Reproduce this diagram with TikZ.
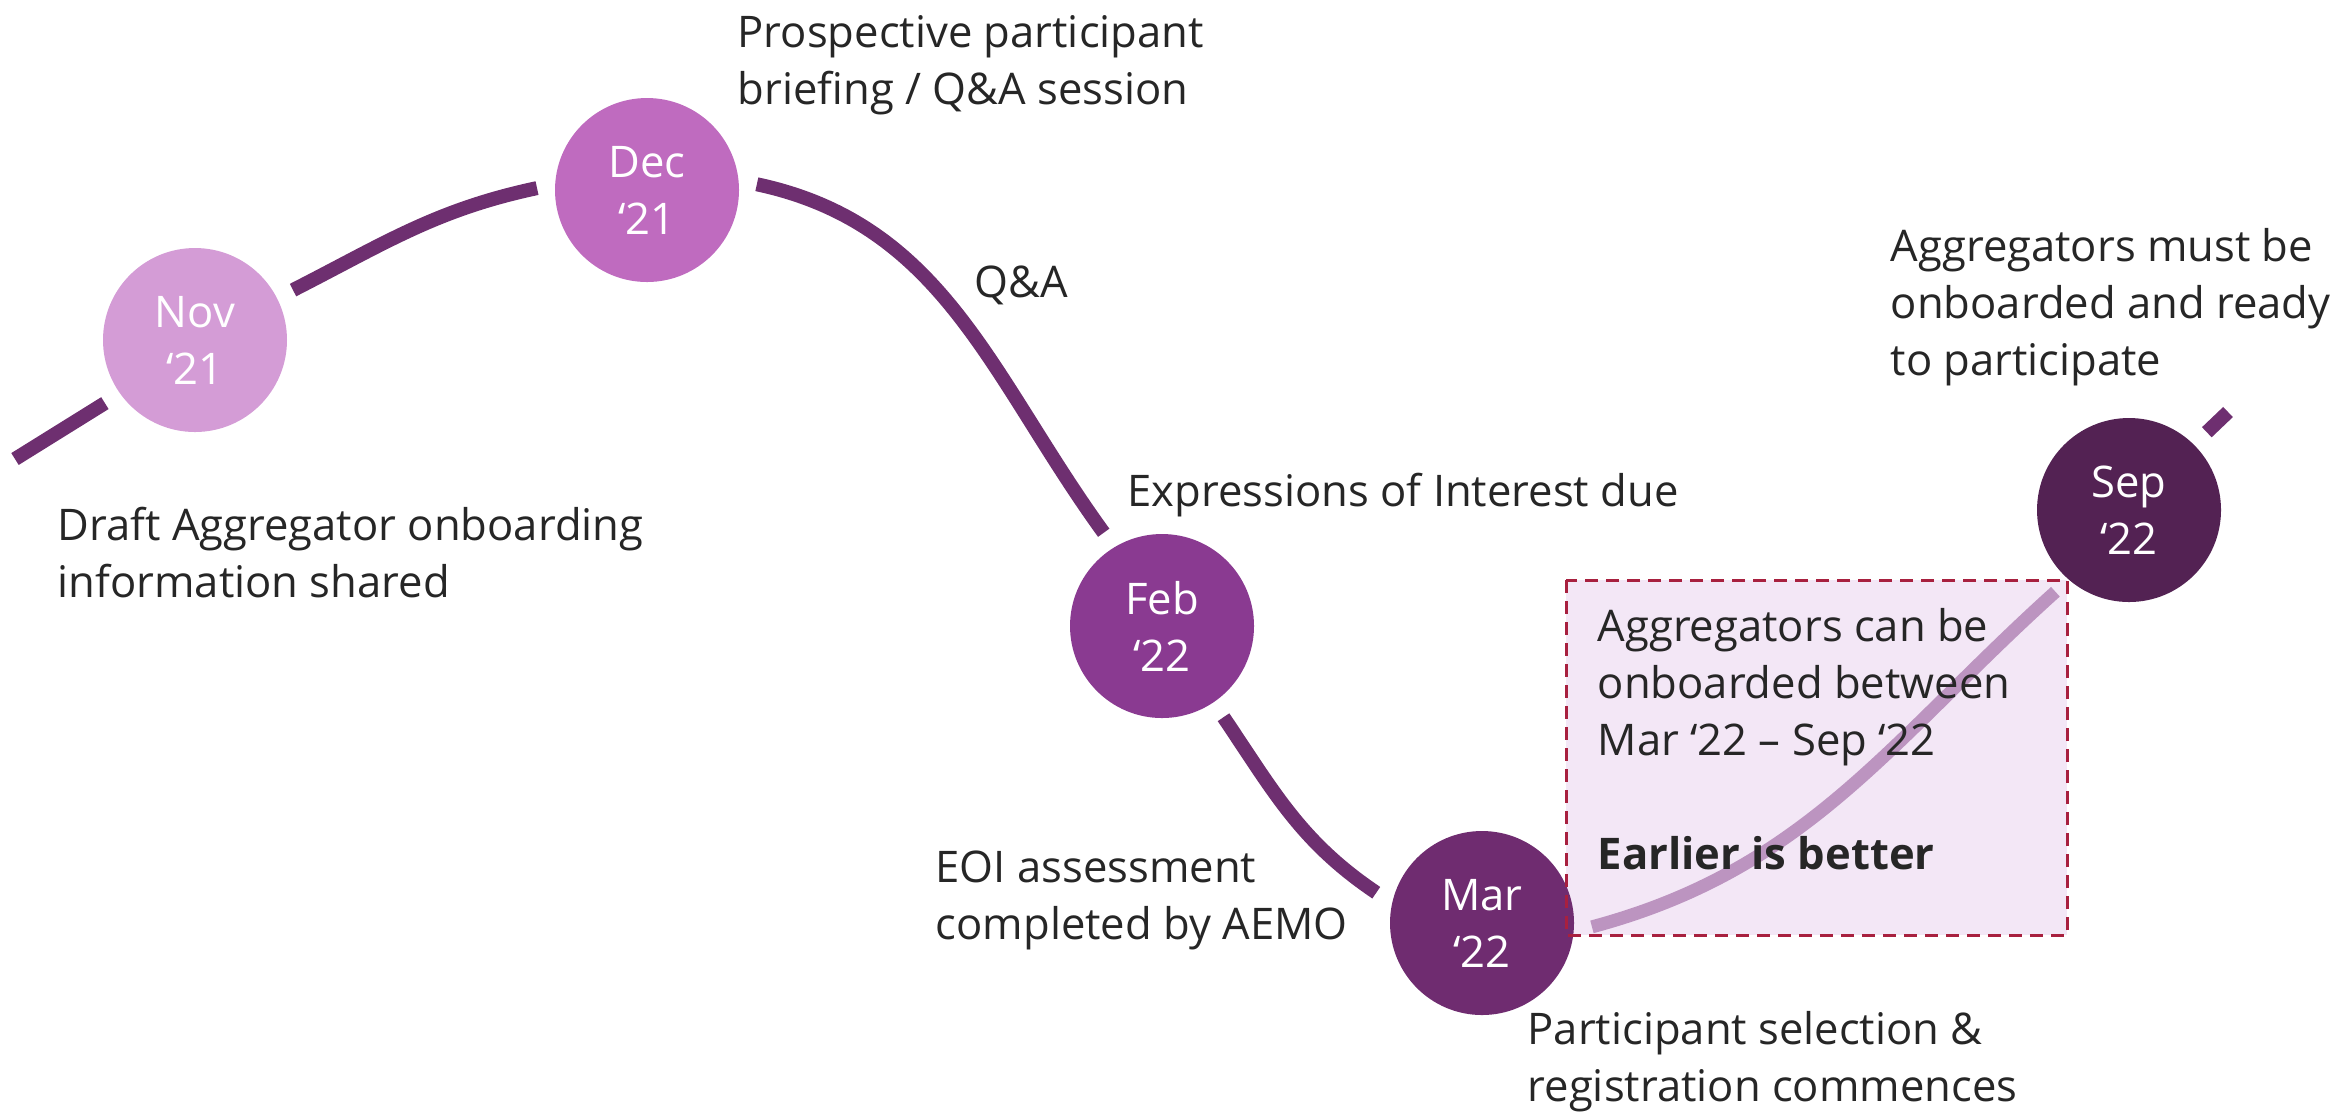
\documentclass[tikz,border=0pt]{standalone}
\usepackage{fontspec}
\setmainfont{Open Sans}
\definecolor{novC}{HTML}{D49CD6}
\definecolor{decC}{HTML}{BF6BBF}
\definecolor{febC}{HTML}{8A3A91}
\definecolor{marC}{HTML}{6F2C70}
\definecolor{sepC}{HTML}{532253}
\definecolor{lineC}{HTML}{6E2F70}
\definecolor{lightC}{HTML}{BC94C0}
\definecolor{boxC}{HTML}{F3E7F6}
\definecolor{borderC}{HTML}{A8203F}
\definecolor{txtC}{HTML}{262626}
\newcommand\lblfont{\fontsize{12.4}{16.2}\selectfont}
\pgfdeclarelayer{bg}
\pgfsetlayers{bg,main}
\tikzset{
  month/.style={circle, minimum size=18.4mm, inner sep=0pt, outer sep=1.8mm,
    text=white, align=center, font=\lblfont},
  tline/.style={line width=1.4mm, draw=lineC},
  lline/.style={line width=1.3mm, draw=lightC},
  lbl/.style={anchor=north west, inner sep=0pt, align=left, text=txtC, font=\lblfont},
  boxborder/.style={draw=borderC, line width=0.3mm, dash pattern=on 1.3mm off 0.8mm},
}
\begin{document}
\begin{tikzpicture}[x=0.1mm,y=-0.1mm]
\useasboundingbox (0,0) rectangle (2343,1112);
% month circles
\node[month, fill=novC] (nov) at (195,340) {Nov\\‘21};
\node[month, fill=decC] (dec) at (647,190) {Dec\\‘21};
\node[month, fill=febC] (feb) at (1162,626) {Feb\\‘22};
\node[month, fill=marC] (mar) at (1482,923) {Mar\\‘22};
\node[month, fill=sepC] (sep) at (2129,510) {Sep\\‘22};
\coordinate (start) at (15,459);
\coordinate (tailend) at (2228,412);
\coordinate (boxnw) at (1566,580);
\coordinate (boxse) at (2067,935);
\begin{pgfonlayer}{bg}
  \fill[boxC] (boxnw) rectangle (boxse);
  \draw[tline] (start) -- (nov.215);
  \draw[tline] (nov.27) to[out=27,in=192] (dec.179);
  \draw[tline] (dec.3) to[out=-12,in=126] (feb.122);
  \draw[tline] (feb.-56) to[out=-56,in=146] (mar.164);
  \draw[lline] (mar.-2) to[out=15,in=222] (sep.228);
  \draw[tline] (sep.45) -- (tailend);
\end{pgfonlayer}
\draw[boxborder] (boxnw) rectangle (boxse);
% labels
\node[lbl] (pros) at (737,15) {Prospective participant\\briefing / Q\&A session};
\node[lbl] (draft) at (57,506) {Draft Aggregator onboarding\\information shared};
\node[lbl] (qa) at (974,265) {Q\&A};
\node[lbl] (eoidue) at (1127,472) {Expressions of Interest due};
\node[lbl] (eoiass) at (935,850) {EOI assessment\\completed by AEMO};
\node[lbl] (partsel) at (1527,1011) {Participant selection \&\\registration commences};
\node[lbl] (must) at (1890,228) {Aggregators must be\\onboarded and ready\\to participate};
\node[lbl] (boxtxt) at (1597,608) {Aggregators can be\\onboarded between\\Mar ‘22 – Sep ‘22\\[16.2pt]\textbf{Earlier is better}};
\end{tikzpicture}
\end{document}
